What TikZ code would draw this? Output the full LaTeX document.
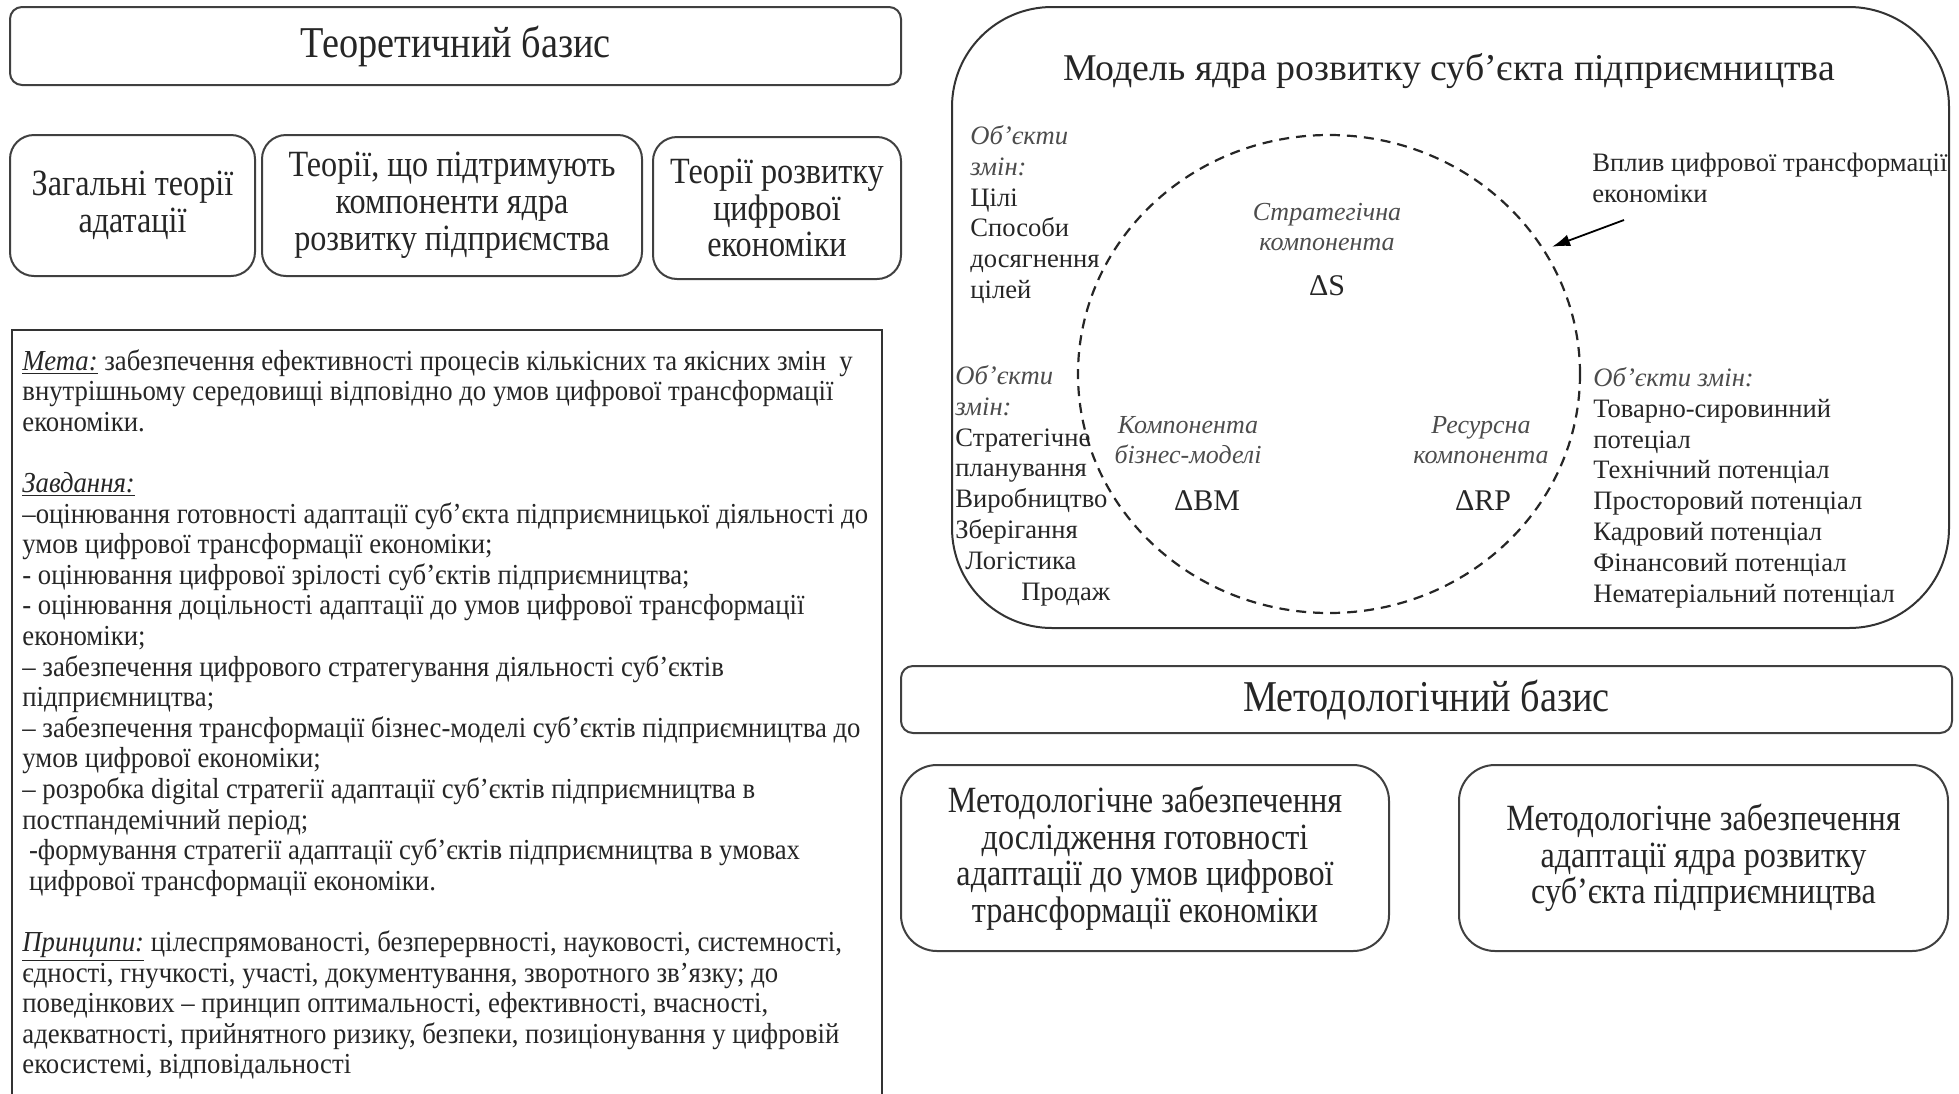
\documentclass[tikz,border=0pt]{standalone}
\usepackage{fontspec}
\setmainfont{Liberation Serif}
\newfontfamily\narrowfont{Liberation Serif}[FakeStretch=0.87]
\newfontfamily\goalfont{Liberation Serif}[FakeStretch=0.922]
\usetikzlibrary{positioning, shapes.geometric, arrows.meta}

\newcommand{\objhead}[1]{{\color{black!70}\itshape #1}}

\begin{document}
\begin{tikzpicture}[x=0.5pt, y=-0.5pt,
						every node/.style = {inner sep=0pt, text=black!85},
						headbox/.style = {draw=black!75, line width=1pt, rounded corners=6pt, font=\narrowfont\fontsize{22}{25}\selectfont},
						theorybox/.style = {draw=black!75, line width=1pt, rounded corners=12pt, align=center, font=\narrowfont\fontsize{18.5}{18.4}\selectfont},
						methodbox/.style = {draw=black!75, line width=1pt, rounded corners=18pt, align=center, font=\narrowfont\fontsize{18.5}{18.3}\selectfont},
						goaltext/.style = {align=left, font=\goalfont\fontsize{14.5}{15.3}\selectfont},
						objlist/.style = {align=left, font=\fontsize{13.3}{15.4}\selectfont},
						comp/.style = {align=center, text=black!70, font=\itshape\fontsize{13}{15}\selectfont},
						delta/.style = {font=\fontsize{15}{18}\selectfont}
					]
\useasboundingbox (0,0) rectangle (1959,1093);

\node[headbox, minimum width=445.5pt, minimum height=39pt] (theory) at (455.5,46) {Теоретичний базис};
\node[theorybox, minimum width=122.5pt, minimum height=70.5pt] (general) at (132.5,205.5) {Загальні теорії\\адатації};
\node[theorybox, minimum width=190pt, minimum height=70.5pt] (support) at (452,205.5) {Теорії, що підтримують\\компоненти ядра\\розвитку підприємства};
\node[theorybox, minimum width=124pt, minimum height=71pt] (digital) at (777,208) {Теорії розвитку\\цифрової\\економіки};

\draw[black!80, line width=1pt] (12,1120) |- (882,330) -- (882,1120);
\node[goaltext, anchor=north west] (goals) at (22,349) {\underline{\textit{Мета:}} забезпечення ефективності процесів кількісних та якісних змін\ \ у\\
внутрішньому середовищі відповідно до умов цифрової трансформації\\
економіки.\\[15.3pt]
\underline{\textit{Завдання:}}\\
–оцінювання готовності адаптації суб’єкта підприємницької діяльності до\\
умов цифрової трансформації економіки;\\
- оцінювання цифрової зрілості суб’єктів підприємництва;\\
- оцінювання доцільності адаптації до умов цифрової трансформації\\
економіки;\\
– забезпечення цифрового стратегування діяльності суб’єктів\\
підприємництва;\\
– забезпечення трансформації бізнес-моделі суб’єктів підприємництва до\\
умов цифрової економіки;\\
– розробка digital стратегії адаптації суб’єктів підприємництва в\\
постпандемічний період;\\
\ -формування стратегії адаптації суб’єктів підприємництва в умовах\\
\ цифрової трансформації економіки.\\[15.3pt]
\underline{\textit{Принципи:}} цілеспрямованості, безперервності, науковості, системності,\\
єдності, гнучкості, участі, документування, зворотного зв’язку; до\\
поведінкових – принцип оптимальності, ефективності, вчасності,\\
адекватності, прийнятного ризику, безпеки, позиціонування у цифровій\\
екосистемі, відповідальності};

\node[draw=black!80, line width=1pt, rounded corners=50pt, minimum width=498.5pt, minimum height=310.5pt] (model) at (1450.5,317.5) {};
\node[font=\fontsize{18.9}{21}\selectfont] (modeltitle) at (1449,71) {Модель ядра розвитку суб’єкта підприємництва};
\node[ellipse, draw=black!85, line width=1.1pt, dash pattern=on 5pt off 3.5pt, minimum width=251pt, minimum height=239pt] (core) at (1329,374) {};

\node[comp] (strat) at (1327,227) {Стратегічна\\компонента};
\node[delta, below=12pt of strat] (ds) {ΔS};
\node[comp] (bm) at (1188,440) {Компонента\\бізнес-моделі};
\node[delta] (dbm) at (1207,501) {ΔBM};
\node[comp] (res) at (1481,440) {Ресурсна\\компонента};
\node[delta] (drp) at (1483,501) {ΔRP};

\node[objlist, anchor=north west] (goalobj) at (970,125) {\objhead{Об’єкти}\\ \objhead{змін:}\\ Цілі\\ Способи\\ досягнення\\ цілей};
\node[objlist, anchor=north west] (procobj) at (955,365) {\objhead{Об’єкти}\\ \objhead{змін:}\\ Стратегічне\\ планування\\ Виробництво\\ Зберігання\\ \hspace*{5pt}Логістика\\ \hspace*{33pt}Продаж};
\node[objlist, anchor=north west] (resobj) at (1593,367) {\objhead{Об’єкти змін:}\\ Товарно-сировинний\\ потеціал\\ Технічний потенціал\\ Просторовий потенціал\\ Кадровий потенціал\\ Фінансовий потенціал\\ Нематеріальний потенціал};
\node[objlist, anchor=north west] (impact) at (1592,153) {Вплив цифрової трансформації\\ економіки};

\coordinate (impactstart) at (1624,220);
\draw[-{Latex[length=9pt, width=6pt]}, line width=0.9pt, shorten >=4pt] (impactstart) -- (core.30);

\node[headbox, minimum width=525.5pt, minimum height=33.5pt] (method) at (1426.5,699.5) {Методологічний базис};
\node[methodbox, minimum width=244pt, minimum height=93pt] (readiness) at (1145,858) {Методологічне забезпечення\\дослідження готовності\\адаптації до умов цифрової\\трансформації економіки};
\node[methodbox, minimum width=244.5pt, minimum height=93pt] (coreadapt) at (1703.5,858) {Методологічне забезпечення\\адаптації ядра розвитку\\суб’єкта підприємництва};
\end{tikzpicture}
\end{document}
